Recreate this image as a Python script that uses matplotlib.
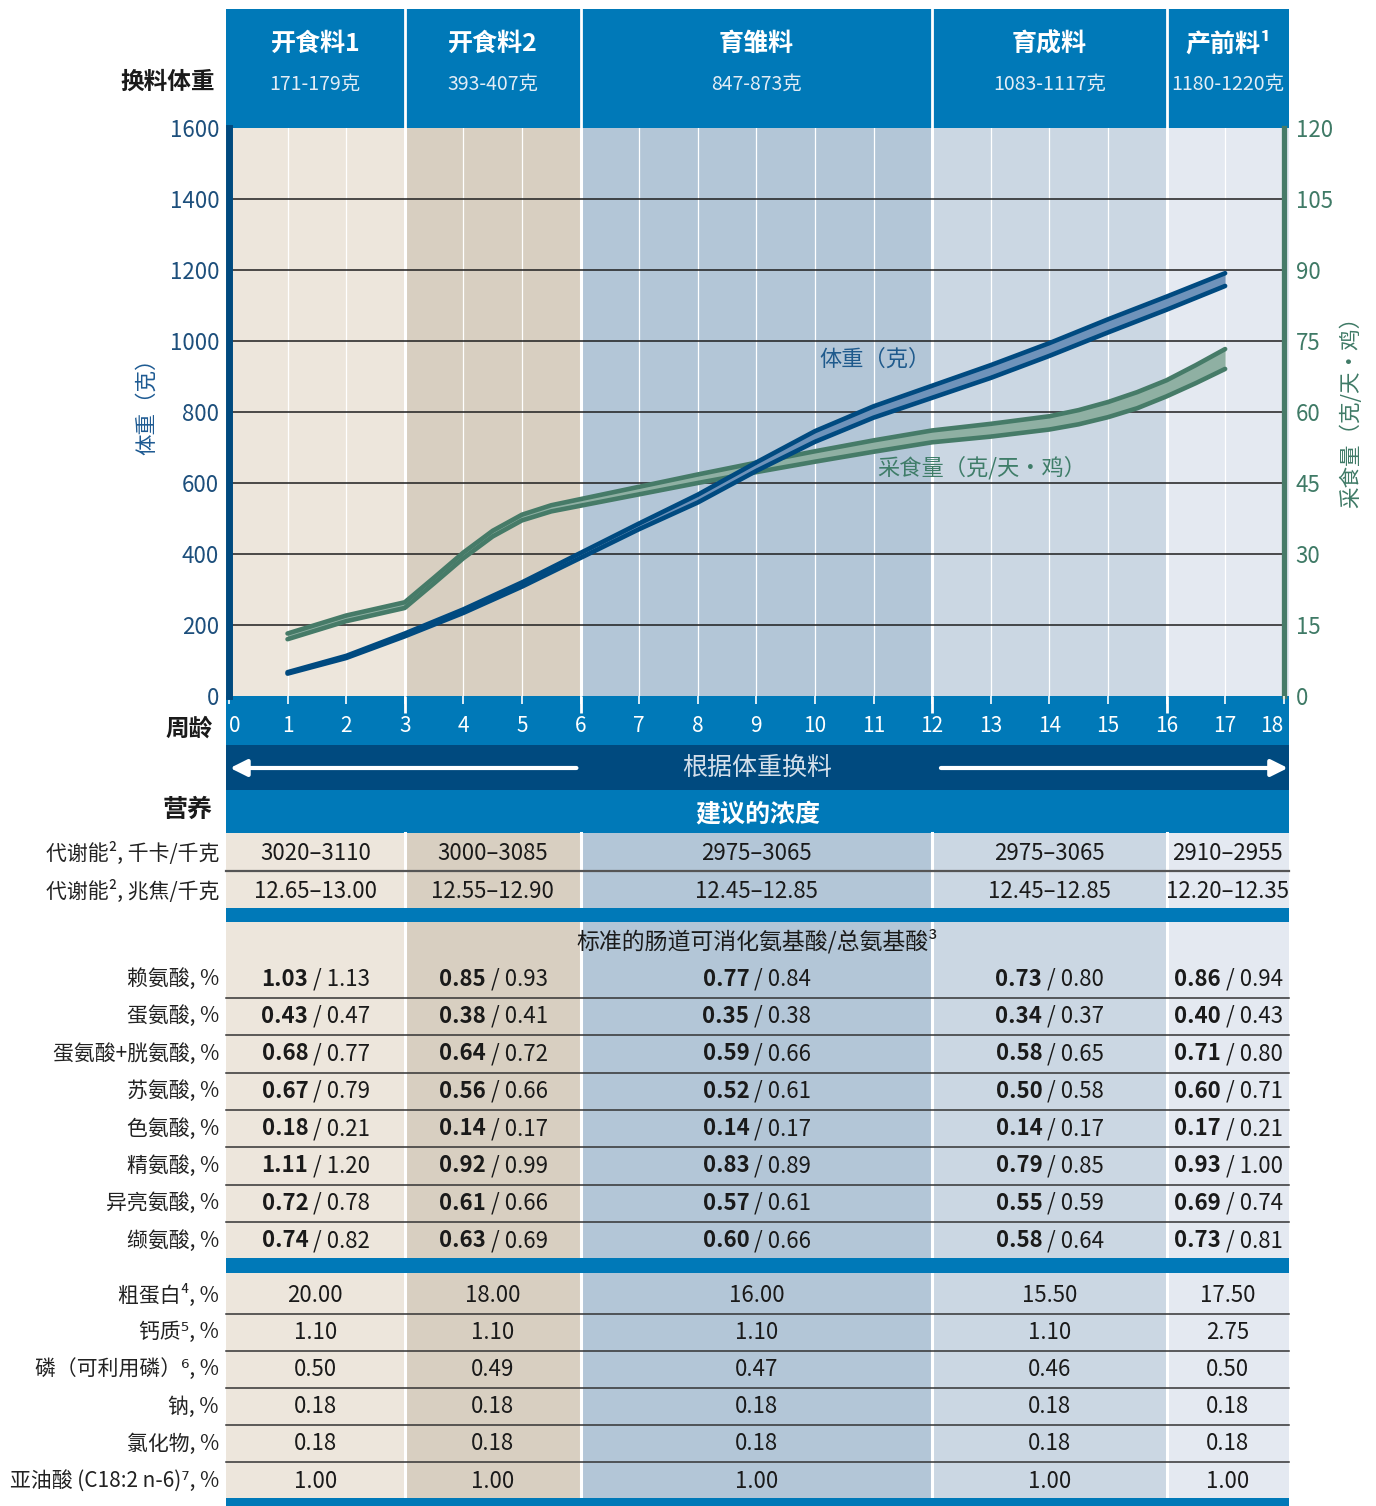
import matplotlib
matplotlib.use("Agg")
import matplotlib.pyplot as plt
import matplotlib.transforms as mtransforms
from matplotlib.patches import Rectangle

plt.rcParams['font.family'] = ['Noto Sans CJK SC', 'DejaVu Sans']

# feed phases and the body weight at which to switch
phases = ["开食料1", "开食料2", "育雏料", "育成料", "产前料¹"]
switch_weights = ["171-179克", "393-407克", "847-873克", "1083-1117克", "1180-1220克"]
phase_weeks = [3, 6, 12, 16]

# body weight standard, weeks 1-17 (lower / upper bound, g)
weeks = list(range(1, 18))
weight_low = [63, 107, 168, 234, 308, 389, 470, 545, 634, 716, 784, 840, 896, 958, 1024, 1088, 1155]
weight_high = [67, 113, 176, 244, 320, 403, 486, 567, 658, 746, 816, 874, 932, 994, 1061, 1125, 1191]

# feed intake standard (g/bird/day), read at half weeks where the curve bends
feed_weeks = [1, 2, 3, 3.5, 4, 4.5, 5, 5.5, 6, 7, 8, 9, 10, 11, 12, 13, 14, 14.5, 15, 15.5, 16, 16.5, 17]
feed_low = [12.0, 15.8, 18.6, 23.8, 29.1, 33.7, 37.1, 39.0, 40.2, 42.6, 45.0, 47.3, 49.5, 51.6,
            53.6, 54.8, 56.3, 57.4, 58.9, 60.8, 63.3, 66.1, 69.1]
feed_high = [13.2, 17.0, 19.8, 25.0, 30.3, 34.9, 38.3, 40.3, 41.6, 44.2, 46.8, 49.3, 51.7, 54.0,
             56.1, 57.5, 59.1, 60.4, 62.1, 64.2, 66.7, 69.9, 73.3]

# nutrient table
energy_labels = ["代谢能², 千卡/千克", "代谢能², 兆焦/千克"]
energy_values = [
    ["3020–3110", "3000–3085", "2975–3065", "2975–3065", "2910–2955"],
    ["12.65–13.00", "12.55–12.90", "12.45–12.85", "12.45–12.85", "12.20–12.35"],
]

aa_title = "标准的肠道可消化氨基酸/总氨基酸³"
aa_labels = ["赖氨酸, %", "蛋氨酸, %", "蛋氨酸+胱氨酸, %", "苏氨酸, %",
             "色氨酸, %", "精氨酸, %", "异亮氨酸, %", "缬氨酸, %"]
aa_digestible = [
    ["1.03", "0.85", "0.77", "0.73", "0.86"],
    ["0.43", "0.38", "0.35", "0.34", "0.40"],
    ["0.68", "0.64", "0.59", "0.58", "0.71"],
    ["0.67", "0.56", "0.52", "0.50", "0.60"],
    ["0.18", "0.14", "0.14", "0.14", "0.17"],
    ["1.11", "0.92", "0.83", "0.79", "0.93"],
    ["0.72", "0.61", "0.57", "0.55", "0.69"],
    ["0.74", "0.63", "0.60", "0.58", "0.73"],
]
aa_total = [
    ["1.13", "0.93", "0.84", "0.80", "0.94"],
    ["0.47", "0.41", "0.38", "0.37", "0.43"],
    ["0.77", "0.72", "0.66", "0.65", "0.80"],
    ["0.79", "0.66", "0.61", "0.58", "0.71"],
    ["0.21", "0.17", "0.17", "0.17", "0.21"],
    ["1.20", "0.99", "0.89", "0.85", "1.00"],
    ["0.78", "0.66", "0.61", "0.59", "0.74"],
    ["0.82", "0.69", "0.66", "0.64", "0.81"],
]

other_labels = ["粗蛋白⁴, %", "钙质⁵, %", "磷（可利用磷）⁶, %", "钠, %", "氯化物, %", "亚油酸 (C18:2 n-6)⁷, %"]
other_values = [
    ["20.00", "18.00", "16.00", "15.50", "17.50"],
    ["1.10", "1.10", "1.10", "1.10", "2.75"],
    ["0.50", "0.49", "0.47", "0.46", "0.50"],
    ["0.18", "0.18", "0.18", "0.18", "0.18"],
    ["0.18", "0.18", "0.18", "0.18", "0.18"],
    ["1.00", "1.00", "1.00", "1.00", "1.00"],
]

BLUE = "#0079b8"
NAVY = "#004a7f"
WEIGHT = "#004a80"
WEIGHT_FILL = "#6f93ba"
FEED = "#467b68"
FEED_FILL = "#8fb0a3"
col_colors = ["#ede6dc", "#d8cfc1", "#b3c6d7", "#cbd7e3", "#e4e9f1"]
TXT = "#1a1a1a"

W, H = 1376, 1506
fig = plt.figure(figsize=(W / 100, H / 100), dpi=100)

# pixel-space layer for header, bands and table
bg = fig.add_axes([0, 0, 1, 1], zorder=0)
bg.set_xlim(0, W)
bg.set_ylim(H, 0)
bg.axis("off")

left, right, top, bottom = 226, 1289, 128, 696
ax = fig.add_axes([left / W, 1 - bottom / H, (right - left) / W, (bottom - top) / H])
ax2 = ax.twinx()
ax.set_zorder(2)
ax2.set_zorder(1)
ax.patch.set_visible(False)

XMIN, XMAX = -0.05, 18.09
ax.set_xlim(XMIN, XMAX)
ax.set_ylim(0, 1600)
ax2.set_ylim(0, 120)

edges = [XMIN] + phase_weeks + [XMAX]
centers = [(a + b) / 2 for a, b in zip(edges[:-1], edges[1:])]
mid = (XMIN + XMAX) / 2

# x in weeks, y in pixels
blend = mtransforms.blended_transform_factory(ax.transData, bg.transData)

# ---- chart area ----
for i, c in enumerate(col_colors):
    ax2.axvspan(edges[i], edges[i + 1], color=c, lw=0, zorder=0)
for w in range(1, 18):
    ax2.axvline(w, color="white", lw=2.2 if w in phase_weeks else 0.9, zorder=0.5)
for v in range(15, 120, 15):
    ax2.hlines(v, 0, 18, color="#1e1e1e", lw=1.1, zorder=0.6)

line_kw = dict(lw=3.3, solid_capstyle="round", solid_joinstyle="round", zorder=3)
ax2.fill_between(feed_weeks, feed_low, feed_high, color=FEED_FILL, lw=0, zorder=2)
for s in (feed_low, feed_high):
    ax2.plot(feed_weeks, s, color=FEED, **line_kw)

ax.fill_between(weeks, weight_low, weight_high, color=WEIGHT_FILL, lw=0, zorder=2)
for s in (weight_low, weight_high):
    ax.plot(weeks, s, color=WEIGHT, **line_kw)

ax.text(11.03, 950, "体重（克）", color="#1f5a8c", fontsize=16, ha="center", va="center")
ax2.text(12.85, 48.2, "采食量（克/天・鸡）", color="#3f7d69", fontsize=16, ha="center", va="center")

for s in ["top", "right", "bottom"]:
    ax.spines[s].set_visible(False)
ax.spines["left"].set_position(("data", 0))
ax.spines["left"].set_color(NAVY)
ax.spines["left"].set_linewidth(5)
for s in ["top", "left", "bottom"]:
    ax2.spines[s].set_visible(False)
ax2.spines["right"].set_position(("data", 18))
ax2.spines["right"].set_color(FEED)
ax2.spines["right"].set_linewidth(3.8)

ax.set_yticks(range(0, 1601, 200))
ax.tick_params(axis="y", length=0, pad=7, labelsize=16, labelcolor="#1d4f7c")
ax2.set_yticks(range(0, 121, 15))
ax2.tick_params(axis="y", length=0, pad=8.5, labelsize=16, labelcolor="#3f7a66")

ax.xaxis.remove_overlapping_locs = False
ax.set_xticks(range(0, 19))
ax.set_xticks(phase_weeks, minor=True)
ax.tick_params(axis="x", which="major", direction="out", length=6, width=1.2,
               color="white", labelcolor="white", labelsize=15, pad=8)
ax.tick_params(axis="x", which="minor", direction="out", length=12, width=2, color="white")
xlabels = ax.get_xticklabels()
xlabels[0].set_ha("left")
xlabels[-1].set_ha("right")

ax.set_ylabel("体重（克）", color="#1d5a92", fontsize=15.5)
ax.yaxis.set_label_coords(-0.064, 0.519)
ax2.set_ylabel("采食量（克/天・鸡）", color="#3f7a66", fontsize=15.5)
ax2.yaxis.set_label_coords(1.048, 0.509)

# ---- header ----
bg.add_patch(Rectangle((XMIN, 9), XMAX - XMIN, 119, transform=blend, color=BLUE, lw=0, zorder=1))
for w in phase_weeks:
    bg.plot([w, w], [9, 128], transform=blend, color="white", lw=2, zorder=2)
for cx, name, wt in zip(centers, phases, switch_weights):
    bg.text(cx, 44, name, transform=blend, ha="center", va="center", color="white",
            fontsize=18, fontweight="bold", zorder=3)
    bg.text(cx, 84, wt, transform=blend, ha="center", va="center", color="#e3edf6",
            fontsize=14, zorder=3)
bg.text(215, 82, "换料体重", ha="right", va="center", fontsize=17, fontweight="bold", color=TXT)

# ---- bands under the chart ----
bg.add_patch(Rectangle((XMIN, 694), XMAX - XMIN, 139, transform=blend, color=BLUE, lw=0, zorder=1))
bg.add_patch(Rectangle((XMIN, 745), XMAX - XMIN, 45, transform=blend, color=NAVY, lw=0, zorder=1))
bg.text(213, 729, "周龄", ha="right", va="center", fontsize=17, fontweight="bold", color=TXT)
bg.text(mid, 768, "根据体重换料", transform=blend, ha="center", va="center",
        color="#d5e0eb", fontsize=18, zorder=3)
arrow = "-|>,head_length=0.5,head_width=0.25"
bg.annotate("", xy=(0.02, 768), xytext=(5.93, 768), xycoords=blend, textcoords=blend,
            arrowprops=dict(arrowstyle=arrow, color="white", lw=3, mutation_scale=20,
                            shrinkA=0, shrinkB=0), zorder=3)
bg.annotate("", xy=(18.07, 768), xytext=(12.15, 768), xycoords=blend, textcoords=blend,
            arrowprops=dict(arrowstyle=arrow, color="white", lw=3, mutation_scale=20,
                            shrinkA=0, shrinkB=0), zorder=3)
bg.text(213, 810, "营养", ha="right", va="center", fontsize=18, fontweight="bold", color=TXT)
bg.text(mid, 814, "建议的浓度", transform=blend, ha="center", va="center",
        color="white", fontsize=18, fontweight="bold", zorder=3)

# ---- table ----
tab_top, tab_bot = 833, 1498
for i, c in enumerate(col_colors):
    bg.add_patch(Rectangle((edges[i], tab_top), edges[i + 1] - edges[i], tab_bot - tab_top,
                           transform=blend, color=c, lw=0, zorder=1))
for w in phase_weeks:
    bg.plot([w, w], [tab_top, tab_bot], transform=blend, color="white", lw=2.2, zorder=2)


def sep(y, lw=1.1, color="#333333"):
    bg.plot([XMIN, XMAX], [y, y], transform=blend, color=color, lw=lw, zorder=3)


def band(y0, y1):
    bg.add_patch(Rectangle((XMIN, y0), XMAX - XMIN, y1 - y0, transform=blend,
                           color=BLUE, lw=0, zorder=4))


def row_label(y, s):
    bg.text(219, y, s, ha="right", va="center", fontsize=15, color="#222222", zorder=5)


# energy
energy_y = [853, 891]
sep(871, lw=1.6, color="#555555")
for y, lab, vals in zip(energy_y, energy_labels, energy_values):
    row_label(y, lab)
    for cx, v in zip(centers, vals):
        bg.text(cx, y, v, transform=blend, ha="center", va="center", fontsize=16, color=TXT, zorder=5)
band(908, 922)

# amino acids
bg.text(mid, 941, aa_title, transform=blend, ha="center", va="center", fontsize=16.5, color=TXT, zorder=5)
row_h = 37.4
aa_y = [979 + k * row_h for k in range(len(aa_labels))]
for a, b in zip(aa_y[:-1], aa_y[1:]):
    sep((a + b) / 2)
off = mtransforms.offset_copy(blend, fig=fig, x=-7, y=0, units="dots")
for y, lab, dig, tot in zip(aa_y, aa_labels, aa_digestible, aa_total):
    row_label(y, lab)
    for cx, d, t in zip(centers, dig, tot):
        bg.text(cx, y, d, transform=off, ha="right", va="center", fontsize=16,
                fontweight="bold", color=TXT, zorder=5)
        bg.text(cx, y, " / " + t, transform=off, ha="left", va="center", fontsize=16,
                color=TXT, zorder=5)
band(1258, 1273)

# protein, minerals, linoleic acid
other_y = [1295 + k * 37.2 for k in range(len(other_labels))]
for a, b in zip(other_y[:-1], other_y[1:]):
    sep((a + b) / 2)
for y, lab, vals in zip(other_y, other_labels, other_values):
    row_label(y, lab)
    for cx, v in zip(centers, vals):
        bg.text(cx, y, v, transform=blend, ha="center", va="center", fontsize=16, color=TXT, zorder=5)
band(tab_bot, H)

fig.savefig("out.png", dpi=100, facecolor="white")
